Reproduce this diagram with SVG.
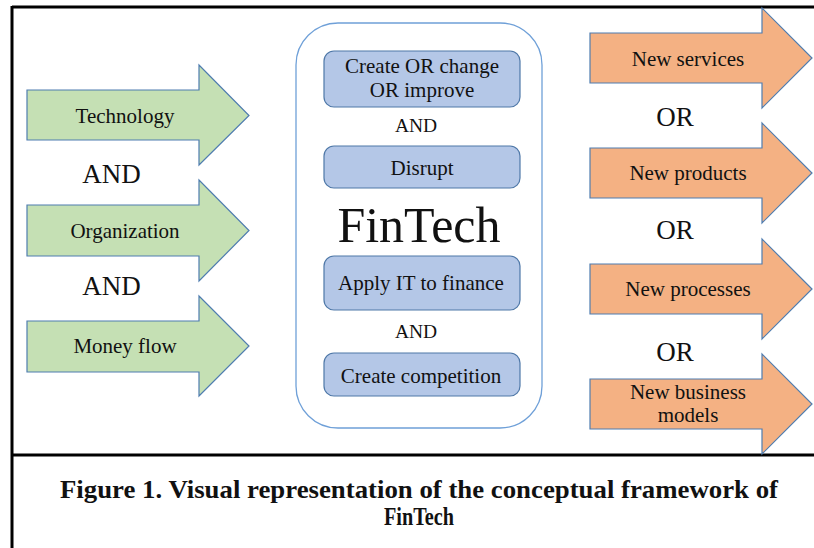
<svg xmlns="http://www.w3.org/2000/svg" width="814" height="548" viewBox="0 0 814 548">
<style>
.lbl{font-family:"Liberation Serif","Times New Roman",serif;fill:#111;text-anchor:middle}
.box{font-size:21px}
.conj{font-size:27px}
.green{fill:#C5E0B4;stroke:#4F7DB0;stroke-width:1.2}
.orange{fill:#F4B183;stroke:#4F7DB0;stroke-width:1.2}
.blue{fill:#B4C7E7;stroke:#4F78A8;stroke-width:1.2}
.frame{stroke:#000;stroke-width:3;fill:none}
</style>
<rect width="814" height="548" fill="#fff"/>
<g id="frame">
<line class="frame" x1="12" y1="7" x2="814" y2="7"/>
<line class="frame" x1="12" y1="6" x2="12" y2="548"/>
<line class="frame" x1="12" y1="455" x2="814" y2="455"/>
</g>
<g id="technology">
<path class="green" d="M27,90 H199 V65 L249,115.5 L199,165 V140 H27 Z"/>
<text class="lbl box" x="125" y="123">Technology</text>
</g>
<g id="organization">
<path class="green" d="M27,205 H199 V180 L249,230.5 L199,281 V256 H27 Z"/>
<text class="lbl box" x="125" y="238">Organization</text>
</g>
<g id="moneyflow">
<path class="green" d="M27,321 H199 V296 L249,346 L199,396 V372 H27 Z"/>
<text class="lbl box" x="125" y="353">Money flow</text>
</g>
<text class="lbl conj" x="111.5" y="183">AND</text>
<text class="lbl conj" x="111.5" y="295">AND</text>
<g id="fintech">
<rect x="296" y="23" width="246" height="405" rx="42" fill="#fff" stroke="#6FA0D8" stroke-width="1.3"/>
<text class="lbl" x="419" y="242" font-size="50">FinTech</text>
</g>
<g id="create">
<rect class="blue" x="324" y="51" width="196" height="56" rx="10"/>
<text class="lbl box" x="422" y="73">Create OR change</text>
<text class="lbl box" x="422" y="97">OR improve</text>
</g>
<text class="lbl" x="416" y="132" font-size="19.5">AND</text>
<g id="disrupt">
<rect class="blue" x="324" y="146" width="196" height="42" rx="10"/>
<text class="lbl box" x="422" y="175">Disrupt</text>
</g>
<g id="applyit">
<rect class="blue" x="324" y="256" width="196" height="54" rx="10"/>
<text class="lbl box" x="421" y="290">Apply IT to finance</text>
</g>
<text class="lbl" x="416" y="338" font-size="19.5">AND</text>
<g id="competition">
<rect class="blue" x="324" y="353" width="196" height="43" rx="10"/>
<text class="lbl box" x="421" y="383">Create competition</text>
</g>
<g id="services">
<path class="orange" d="M590,33 H762 V8 L812,58 L762,108 V83 H590 Z"/>
<text class="lbl box" x="688" y="66">New services</text>
</g>
<g id="products">
<path class="orange" d="M590,148 H762 V123 L812,173 L762,223 V198 H590 Z"/>
<text class="lbl box" x="688" y="180">New products</text>
</g>
<g id="processes">
<path class="orange" d="M590,264 H762 V239 L812,289 L762,339 V314 H590 Z"/>
<text class="lbl box" x="688" y="296">New processes</text>
</g>
<g id="business">
<path class="orange" d="M590,379 H762 V354 L812,404 L762,454 V429 H590 Z"/>
<text class="lbl box" x="688" y="399">New business</text>
<text class="lbl box" x="688" y="422">models</text>
</g>
<text class="lbl conj" x="675" y="126">OR</text>
<text class="lbl conj" x="675" y="239">OR</text>
<text class="lbl conj" x="675" y="361">OR</text>
<g id="caption">
<text class="lbl" x="419" y="498" font-size="26" font-weight="bold" textLength="718" lengthAdjust="spacingAndGlyphs">Figure 1. Visual representation of the conceptual framework of</text>
<text class="lbl" x="419" y="525" font-size="26" font-weight="bold" textLength="70" lengthAdjust="spacingAndGlyphs">FinTech</text>
</g>
</svg>
